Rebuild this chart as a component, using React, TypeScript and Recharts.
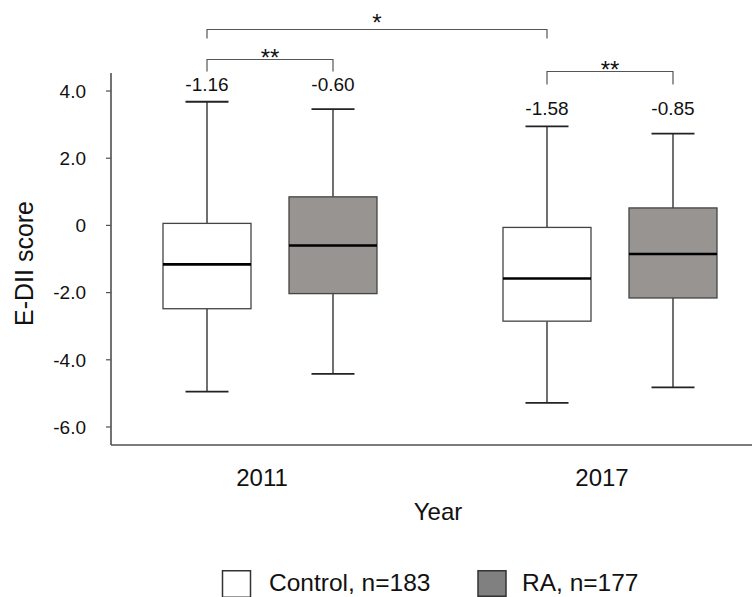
import React from "react";
import { BarChart, Bar, XAxis, YAxis, Legend, Label } from "recharts";

const years = ["2011", "2017"];
const controlMin = [-4.95, -5.28];
const controlQ1 = [-2.48, -2.85];
const controlMedian = [-1.16, -1.58];
const controlQ3 = [0.06, -0.06];
const controlMax = [3.68, 2.95];
const raMin = [-4.42, -4.82];
const raQ1 = [-2.03, -2.16];
const raMedian = [-0.6, -0.85];
const raQ3 = [0.85, 0.52];
const raMax = [3.46, 2.73];
const yTicks = [-6, -4, -2, 0, 2, 4];
const seriesNames = ["Control, n=183", "RA, n=177"];

const FONT = "'Liberation Sans', Arial, Helvetica, sans-serif";
const BAR_SIZE = 88;
const BAR_GAP = 38;
const BAND = 340;

const data = years.map((year, i) => ({
  year,
  control: [controlQ1[i], controlQ3[i]],
  ra: [raQ1[i], raQ3[i]],
  cMin: controlMin[i],
  cMed: controlMedian[i],
  cMax: controlMax[i],
  rMin: raMin[i],
  rMed: raMedian[i],
  rMax: raMax[i],
}));

const Bracket = ({ x1, x2, y, leg, label, ty }: any) => (
  <g>
    <path
      d={`M${x1},${y + leg} L${x1},${y} L${x2},${y} L${x2},${y + leg}`}
      fill="none"
      stroke="#555"
      strokeWidth={1.2}
    />
    <text x={(x1 + x2) / 2} y={ty} textAnchor="middle" fontSize={24} fontFamily={FONT} fill="#111">
      {label}
    </text>
  </g>
);

const makeShape = (kind: "c" | "r", fill: string) => (props: any) => {
  const { x, y, width, height, payload } = props;
  const q1 = kind === "c" ? payload.control[0] : payload.ra[0];
  const q3 = kind === "c" ? payload.control[1] : payload.ra[1];
  const min = kind === "c" ? payload.cMin : payload.rMin;
  const max = kind === "c" ? payload.cMax : payload.rMax;
  const med = kind === "c" ? payload.cMed : payload.rMed;
  const ppu = height / (q3 - q1);
  const yOf = (v: number) => y + (q3 - v) * ppu;
  const cx = x + width / 2;
  const capHalf = 21.5;
  const groupMax = Math.max(payload.cMax, payload.rMax);
  const idx = years.indexOf(payload.year);
  return (
    <g>
      <line x1={cx} x2={cx} y1={yOf(max)} y2={y} stroke="#222" strokeWidth={1.3} />
      <line x1={cx} x2={cx} y1={y + height} y2={yOf(min)} stroke="#222" strokeWidth={1.3} />
      <line x1={cx - capHalf} x2={cx + capHalf} y1={yOf(max)} y2={yOf(max)} stroke="#222" strokeWidth={1.8} />
      <line x1={cx - capHalf} x2={cx + capHalf} y1={yOf(min)} y2={yOf(min)} stroke="#222" strokeWidth={1.8} />
      <rect x={x} y={y} width={width} height={height} fill={fill} stroke="#444" strokeWidth={1.3} />
      <line x1={x} x2={x + width} y1={yOf(med)} y2={yOf(med)} stroke="#000" strokeWidth={2.6} />
      <text x={cx} y={yOf(groupMax) - 11} textAnchor="middle" fontSize={19} fontFamily={FONT} fill="#111">
        {med.toFixed(2)}
      </text>
      {kind === "c" && idx === 0 && (
        <>
          <Bracket x1={cx} x2={cx + BAND} y={29.5} leg={9} label="*" ty={31} />
          <Bracket x1={cx} x2={cx + width + BAR_GAP} y={59.5} leg={12} label="**" ty={66} />
        </>
      )}
      {kind === "c" && idx === 1 && (
        <Bracket x1={cx} x2={cx + width + BAR_GAP} y={71.5} leg={13} label="**" ty={77.5} />
      )}
    </g>
  );
};

const legendFills = ["#ffffff", "#808080"];

const renderLegend = () => (
  <svg width={756} height={37} style={{ display: "block", overflow: "visible" }}>
    <rect x={222.5} y={10.75} width={28} height={26.5} fill={legendFills[0]} stroke="#333" strokeWidth={1.5} />
    <text x={269} y={30.5} fontSize={24.5} fontFamily={FONT} fill="#111">
      {seriesNames[0]}
    </text>
    <rect x={478} y={10.75} width={28} height={25.5} fill={legendFills[1]} stroke="#333" strokeWidth={1.5} />
    <text x={522} y={30.5} fontSize={24.5} fontFamily={FONT} fill="#111">
      {seriesNames[1]}
    </text>
  </svg>
);

const XTick = (props: any) => {
  const { x, y, payload } = props;
  return (
    <text x={x - 8} y={y} dy="0.71em" textAnchor="middle" fontSize={24} fontFamily={FONT} fill="#111">
      {payload.value}
    </text>
  );
};

export default function App() {
  return (
    <div style={{ position: "absolute", left: 0, top: 0, width: 756, height: 597, background: "#fff", fontFamily: FONT }}>
      <BarChart
        width={756}
        height={597}
        data={data}
        margin={{ top: 73, right: 4, bottom: 72, left: 0 }}
        barSize={BAR_SIZE}
        barGap={BAR_GAP}
      >
        <XAxis
          dataKey="year"
          type="category"
          height={80}
          padding={{ left: -11, right: -28 }}
          axisLine={{ stroke: "#505050", strokeWidth: 1.6 }}
          tickLine={false}
          tickSize={0}
          tickMargin={24}
          tick={<XTick />}
          interval={0}
        >
          <Label
            content={(p: any) => {
              const vb = p.viewBox || { x: 111, y: 445, width: 641, height: 80 };
              return (
                <text x={vb.x + vb.width / 2 + 6.5} y={vb.y + 75} textAnchor="middle" fontSize={24} fontFamily={FONT} fill="#111">
                  Year
                </text>
              );
            }}
          />
        </XAxis>
        <YAxis
          type="number"
          width={111}
          domain={[-6.536, 4.536]}
          ticks={yTicks}
          interval={0}
          tickFormatter={(v: number) => (v === 0 ? "0" : v.toFixed(1))}
          axisLine={{ stroke: "#505050", strokeWidth: 1.6 }}
          tickLine={{ stroke: "#505050", strokeWidth: 1.2 }}
          tickSize={5}
          tickMargin={20}
          tick={{ fontSize: 19, fill: "#111", fontFamily: FONT }}
        >
          <Label
            content={(p: any) => {
              const vb = p.viewBox || { x: 0, y: 73, width: 111, height: 372 };
              const lx = vb.x + 33;
              const ly = vb.y + vb.height / 2 + 4.5;
              return (
                <text x={lx} y={ly} transform={`rotate(-90, ${lx}, ${ly})`} textAnchor="middle" fontSize={25} fontFamily={FONT} fill="#111">
                  E-DII score
                </text>
              );
            }}
          />
        </YAxis>
        <Legend
          layout="horizontal"
          verticalAlign="middle"
          align="center"
          content={renderLegend}
          wrapperStyle={{ top: 560, left: 0, width: 756, height: 37 }}
        />
        <Bar dataKey="control" name={seriesNames[0]} fill="#ffffff" shape={makeShape("c", "#ffffff")} isAnimationActive={false} />
        <Bar dataKey="ra" name={seriesNames[1]} fill="#979492" shape={makeShape("r", "#979492")} isAnimationActive={false} />
      </BarChart>
    </div>
  );
}
